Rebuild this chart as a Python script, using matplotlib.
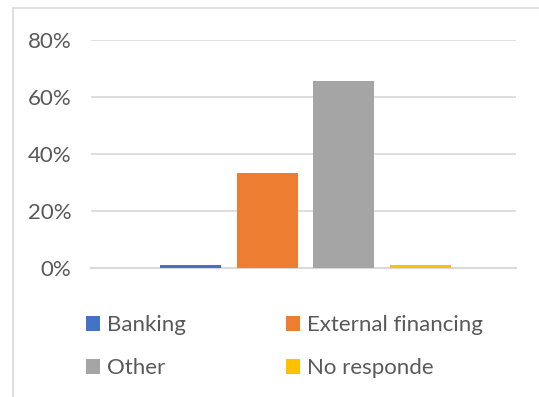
import matplotlib.pyplot as plt
from matplotlib.ticker import PercentFormatter
from matplotlib.lines import Line2D

plt.rcParams['font.family'] = ['Lato', 'DejaVu Sans']

# 数据
labels = ['Banking', 'External financing', 'Other', 'No responde']
values = [0.01, 0.333, 0.655, 0.01]
colors = ['#4472C4', '#ED7D31', '#A5A5A5', '#FFC000']
yticks = [0, 0.2, 0.4, 0.6, 0.8]

fig = plt.figure(figsize=(5.39, 3.97), dpi=100)
ax = fig.add_axes([91 / 539, 1 - 268 / 397, 425 / 539, 228 / 397])

# 每个系列一根柱子,并排放在同一个分类里
bar_w = 61 / 425
step = 76.5 / 425
center = 0.505
handles = []
for i, (lab, val, col) in enumerate(zip(labels, values, colors)):
    x = center + (i - 1.5) * step
    b = ax.bar(x, val, width=bar_w, color=col, label=lab, zorder=3)
    handles.append(b)

ax.set_xlim(0, 1)
ax.set_ylim(0, 0.8)
ax.set_yticks(yticks)
ax.yaxis.set_major_formatter(PercentFormatter(1.0, decimals=0))
ax.set_xticks([])
ax.grid(axis='y', color='#D9D9D9', linewidth=1.2, zorder=0)
for s in ['top', 'right', 'left']:
    ax.spines[s].set_visible(False)
ax.spines['bottom'].set_color('#D9D9D9')
ax.spines['bottom'].set_linewidth(1.5)
ax.tick_params(axis='y', length=0, pad=14, labelsize=16, labelcolor='#595959')

# 图例放在下方,两列,按行排列
order = [0, 2, 1, 3]
fig.legend([handles[i] for i in order], [labels[i] for i in order],
           loc='upper left', bbox_to_anchor=(66 / 539, 1 - 295 / 397), ncol=2,
           frameon=False, fontsize=16, labelcolor='#595959',
           handlelength=0.65, handleheight=0.65, handletextpad=0.3,
           columnspacing=4.5, labelspacing=1.05)

# 外框(只看得到左边和上边)
fig.add_artist(Line2D([13 / 539, 13 / 539], [0, 1 - 8 / 397], transform=fig.transFigure,
                      color='#D9D9D9', linewidth=1.2))
fig.add_artist(Line2D([13 / 539, 1], [1 - 8 / 397, 1 - 8 / 397], transform=fig.transFigure,
                      color='#D9D9D9', linewidth=1.2))

fig.savefig('out.png', dpi=100)
